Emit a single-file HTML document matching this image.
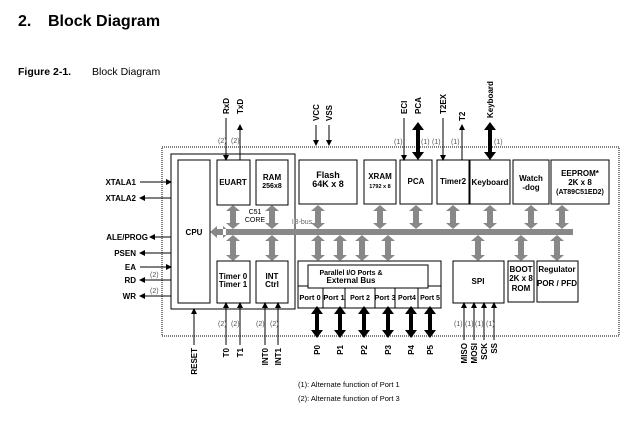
<!DOCTYPE html>
<html><head><style>
body{margin:0;background:#fff;}
svg{display:block;font-family:"Liberation Sans",Arial,sans-serif;}
</style></head><body>
<svg width="642" height="422" viewBox="0 0 642 422" xmlns="http://www.w3.org/2000/svg">
<defs>
<marker id="ah" markerWidth="6" markerHeight="6" refX="5" refY="3" orient="auto" markerUnits="userSpaceOnUse"><path d="M0,0 L6,3 L0,6 Z" fill="#000"/></marker>
<path id="gu" d="M-7,6 L0,0 L7,6 L3,6 L3,18 L7,18 L0,24 L-7,18 L-3,18 L-3,6 Z" fill="#888"/>
<path id="gl" d="M-7,6 L0,0 L7,6 L3,6 L3,20 L7,20 L0,26 L-7,20 L-3,20 L-3,6 Z" fill="#888"/>
<path id="bp" d="M-6,8 L0,0 L6,8 L2,8 L2,24 L6,24 L0,32 L-6,24 L-2,24 L-2,8 Z" fill="#000"/>
<path id="bt" d="M-6,8 L0,0 L6,8 L2,8 L2,30 L6,30 L0,38 L-6,30 L-2,30 L-2,8 Z" fill="#000"/>
</defs>
<text x="18" y="26" font-size="16" font-weight="bold">2.</text>
<text x="48" y="26" font-size="16" font-weight="bold">Block Diagram</text>
<text x="18" y="75" font-size="10.5" font-weight="bold">Figure 2-1.</text>
<text x="92" y="75" font-size="10.5">Block Diagram</text>

<rect x="162" y="147" width="457" height="189" fill="none" stroke="#555" stroke-width="1.5" stroke-dasharray="1,1"/>
<rect x="171" y="154" width="124" height="155" fill="none" stroke="#000" stroke-width="1"/>
<g fill="#fff" stroke="#000" stroke-width="1">
<rect x="178" y="160" width="32" height="143"/>
<rect x="217" y="160" width="33" height="45"/>
<rect x="256" y="160" width="32" height="45"/>
<rect x="299" y="160" width="58" height="44"/>
<rect x="364" y="160" width="32" height="44"/>
<rect x="400" y="160" width="32" height="44"/>
<rect x="437" y="160" width="32" height="44"/>
<rect x="470" y="160" width="40" height="44"/>
<rect x="513" y="160" width="36" height="44"/>
<rect x="551" y="160" width="58" height="44"/>
<rect x="217" y="261" width="33" height="42"/>
<rect x="256" y="261" width="32" height="42"/>
<rect x="298" y="261" width="143" height="47"/>
<rect x="453" y="261" width="51" height="42"/>
<rect x="508" y="261" width="26" height="41"/>
<rect x="537" y="261" width="41" height="41"/>
</g>
<g stroke="#000" stroke-width="1">
<line x1="298" y1="286" x2="441" y2="286"/>
<line x1="323" y1="286" x2="323" y2="308"/><line x1="345" y1="286" x2="345" y2="308"/>
<line x1="375" y1="286" x2="375" y2="308"/><line x1="395" y1="286" x2="395" y2="308"/>
<line x1="418" y1="286" x2="418" y2="308"/>
</g>
<rect x="308" y="265" width="120" height="23" fill="#fff" stroke="#000"/>

<rect x="226" y="229" width="347" height="6" fill="#888"/>
<path d="M210,232 L217,226 L217,229 L228,229 L228,235 L217,235 L217,238 Z M230,232 L223,226 L223,238 Z" fill="#888"/>
<g>
<use href="#gu" x="233" y="205"/><use href="#gu" x="272" y="205"/><use href="#gu" x="318" y="205"/>
<use href="#gu" x="380" y="205"/><use href="#gu" x="416" y="205"/><use href="#gu" x="453" y="205"/>
<use href="#gu" x="490" y="205"/><use href="#gu" x="531" y="205"/><use href="#gu" x="562" y="205"/>
<use href="#gl" x="233" y="235"/><use href="#gl" x="272" y="235"/><use href="#gl" x="318" y="235"/>
<use href="#gl" x="340" y="235"/><use href="#gl" x="362" y="235"/><use href="#gl" x="388" y="235"/>
<use href="#gl" x="478" y="235"/><use href="#gl" x="521" y="235"/><use href="#gl" x="557" y="235"/>
</g>
<use href="#bp" x="317" y="306"/><use href="#bp" x="340" y="306"/><use href="#bp" x="364" y="306"/>
<use href="#bp" x="388" y="306"/><use href="#bp" x="411" y="306"/><use href="#bp" x="430" y="306"/>
<use href="#bt" x="418" y="122"/><use href="#bt" x="490" y="122"/>

<g stroke="#000" stroke-width="1" marker-end="url(#ah)">
<line x1="140" y1="182" x2="171" y2="182"/>
<line x1="171" y1="198" x2="140" y2="198"/>
<line x1="171" y1="237" x2="150" y2="237"/>
<line x1="171" y1="253" x2="140" y2="253"/>
<line x1="140" y1="267" x2="171" y2="267"/>
<line x1="171" y1="280" x2="140" y2="280"/>
<line x1="171" y1="296" x2="140" y2="296"/>
<line x1="226" y1="118" x2="226" y2="160"/>
<line x1="240" y1="160" x2="240" y2="125"/>
<line x1="316" y1="125" x2="316" y2="145"/>
<line x1="329" y1="125" x2="329" y2="145"/>
<line x1="404" y1="118" x2="404" y2="160"/>
<line x1="443" y1="118" x2="443" y2="160"/>
<line x1="462" y1="160" x2="462" y2="125"/>
<line x1="194" y1="345" x2="194" y2="309"/>
<line x1="226" y1="345" x2="226" y2="303"/>
<line x1="240" y1="345" x2="240" y2="303"/>
<line x1="265" y1="345" x2="265" y2="303"/>
<line x1="278" y1="345" x2="278" y2="303"/>
<line x1="464" y1="340" x2="464" y2="303"/>
<line x1="474" y1="340" x2="474" y2="303"/>
<line x1="484" y1="340" x2="484" y2="303"/>
<line x1="494" y1="340" x2="494" y2="303"/>
</g>

<g font-size="8" font-weight="bold" text-anchor="middle">
<text x="233" y="185">EUART</text>
<text x="272" y="180">RAM</text><text x="272" y="188" font-size="7">256x8</text>
<text x="328" y="178" font-size="9">Flash</text><text x="328" y="187" font-size="9">64K x 8</text>
<text x="380" y="179">XRAM</text><text x="380" y="188" font-size="5.5">1792 x 8</text>
<text x="416" y="184">PCA</text>
<text x="453" y="184">Timer2</text>
<text x="490" y="185">Keyboard</text>
<text x="531" y="181">Watch</text><text x="531" y="190">-dog</text>
<text x="580" y="176">EEPROM*</text><text x="580" y="185">2K x 8</text><text x="580" y="194" font-size="7">(AT89C51ED2)</text>
<text x="194" y="235">CPU</text>
<text x="233" y="279">Timer 0</text><text x="233" y="287">Timer 1</text>
<text x="272" y="279">INT</text><text x="272" y="287">Ctrl</text>
<text x="478" y="284">SPI</text>
<text x="521" y="272">BOOT</text><text x="521" y="281">2K x 8</text><text x="521" y="291">ROM</text>
<text x="557" y="272">Regulator</text><text x="557" y="286">POR / PFD</text>
<text x="351" y="275" font-size="7">Parallel I/O Ports &amp;</text>
<text x="351" y="283">External Bus</text>
<text x="310" y="300" font-size="7.5">Port 0</text><text x="334" y="300" font-size="7.5">Port 1</text>
<text x="360" y="300" font-size="7">Port 2</text><text x="385" y="300" font-size="7.5">Port 3</text>
<text x="407" y="300" font-size="7">Port4</text><text x="430" y="300" font-size="7">Port 5</text>
<text x="255" y="214" font-size="7" font-weight="normal">C51</text><text x="255" y="222" font-size="7" font-weight="normal">CORE</text>
<text x="302" y="224" font-size="7" font-weight="normal" fill="#666">IB-bus</text>
</g>
<g font-size="8" font-weight="bold" text-anchor="end">
<text x="136" y="185">XTALA1</text><text x="136" y="201">XTALA2</text>
<text x="148" y="240">ALE/PROG</text><text x="136" y="256">PSEN</text>
<text x="136" y="270">EA</text><text x="136" y="283">RD</text><text x="136" y="299">WR</text>
</g>
<g font-size="7" fill="#555">
<text x="150" y="277">(2)</text><text x="150" y="293">(2)</text>
<text x="218" y="143">(2)</text><text x="231" y="143">(2)</text>
<text x="394" y="144">(1)</text><text x="421" y="144">(1)</text><text x="432" y="144">(1)</text>
<text x="451" y="144">(1)</text><text x="494" y="144">(1)</text>
<text x="218" y="326">(2)</text><text x="231" y="326">(2)</text>
<text x="256" y="326">(2)</text><text x="270" y="326">(2)</text>
<text x="454" y="326">(1)</text><text x="465" y="326">(1)</text><text x="475" y="326">(1)</text><text x="486" y="326">(1)</text>
</g>
<g font-size="8" font-weight="bold" text-anchor="start">
<text transform="translate(229,114) rotate(-90)">RxD</text>
<text transform="translate(243,114) rotate(-90)">TxD</text>
<text transform="translate(319,121) rotate(-90)">VCC</text>
<text transform="translate(332,121) rotate(-90)">VSS</text>
<text transform="translate(407,114) rotate(-90)">ECI</text>
<text transform="translate(421,114) rotate(-90)">PCA</text>
<text transform="translate(446,114) rotate(-90)">T2EX</text>
<text transform="translate(465,121) rotate(-90)">T2</text>
<text transform="translate(493,118) rotate(-90)">Keyboard</text>
</g>
<g font-size="8" font-weight="bold" text-anchor="end">
<text transform="translate(197,348) rotate(-90)">RESET</text>
<text transform="translate(229,348) rotate(-90)">T0</text>
<text transform="translate(243,348) rotate(-90)">T1</text>
<text transform="translate(268,348) rotate(-90)">INT0</text>
<text transform="translate(281,348) rotate(-90)">INT1</text>
<text transform="translate(320,345) rotate(-90)">P0</text>
<text transform="translate(343,345) rotate(-90)">P1</text>
<text transform="translate(367,345) rotate(-90)">P2</text>
<text transform="translate(391,345) rotate(-90)">P3</text>
<text transform="translate(414,345) rotate(-90)">P4</text>
<text transform="translate(433,345) rotate(-90)">P5</text>
<text transform="translate(467,343) rotate(-90)">MISO</text>
<text transform="translate(477,343) rotate(-90)">MOSI</text>
<text transform="translate(487,343) rotate(-90)">SCK</text>
<text transform="translate(497,343) rotate(-90)">SS</text>
</g>
<g font-size="7.5">
<text x="298" y="387">(1): Alternate function of Port 1</text>
<text x="298" y="401">(2): Alternate function of Port 3</text>
</g>
</svg>
</body></html>
